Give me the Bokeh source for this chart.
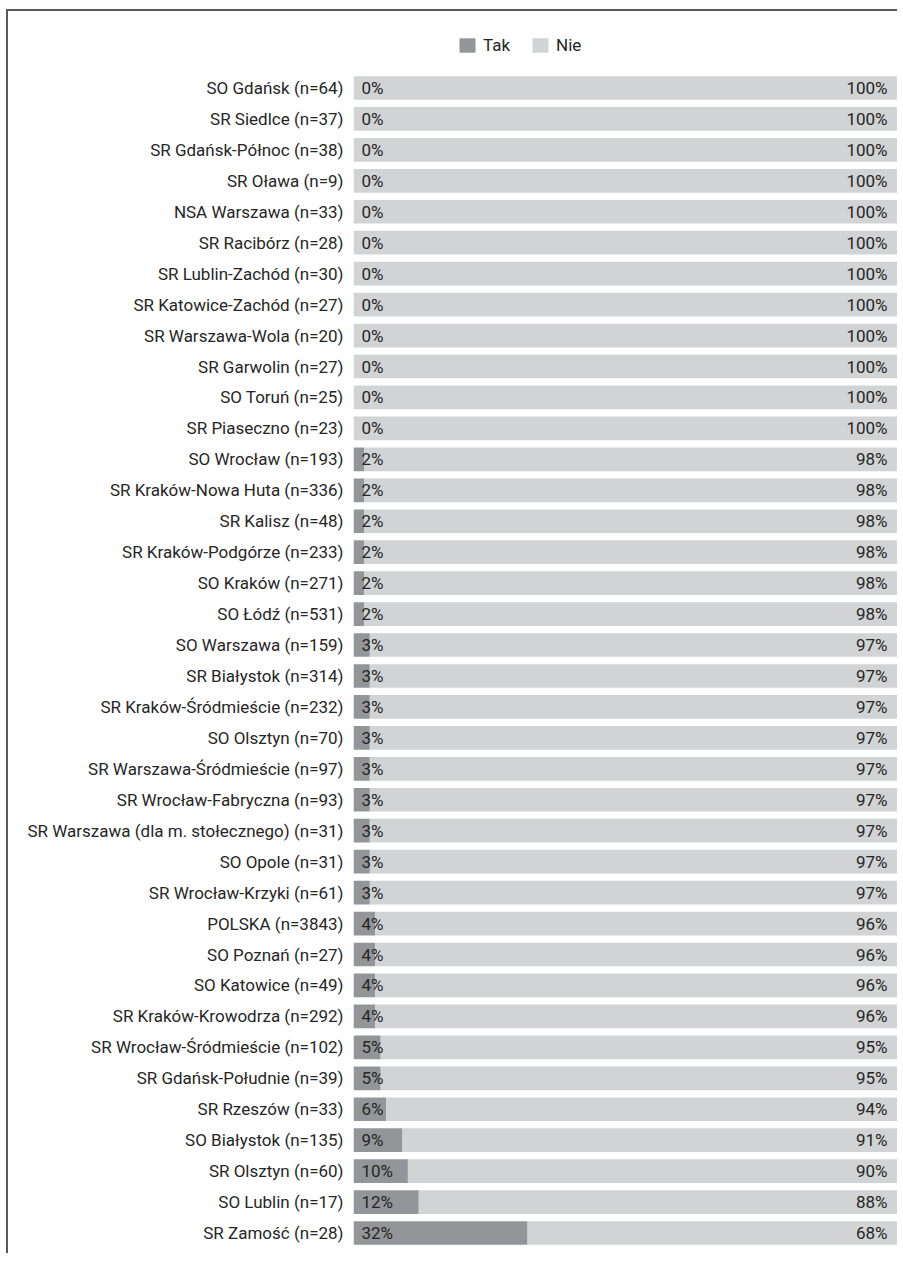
from bokeh.plotting import figure
from bokeh.models import ColumnDataSource, Legend, LegendItem, Range1d, FixedTicker
from bokeh.core.properties import value
from bokeh.embed import file_html
from bokeh.resources import INLINE

labels = [
    "SO Gdańsk (n=64)", "SR Siedlce (n=37)", "SR Gdańsk-Północ (n=38)", "SR Oława (n=9)",
    "NSA Warszawa (n=33)", "SR Racibórz (n=28)", "SR Lublin-Zachód (n=30)",
    "SR Katowice-Zachód (n=27)", "SR Warszawa-Wola (n=20)", "SR Garwolin (n=27)",
    "SO Toruń (n=25)", "SR Piaseczno (n=23)", "SO Wrocław (n=193)",
    "SR Kraków-Nowa Huta (n=336)", "SR Kalisz (n=48)", "SR Kraków-Podgórze (n=233)",
    "SO Kraków (n=271)", "SO Łódź (n=531)", "SO Warszawa (n=159)", "SR Białystok (n=314)",
    "SR Kraków-Śródmieście (n=232)", "SO Olsztyn (n=70)", "SR Warszawa-Śródmieście (n=97)",
    "SR Wrocław-Fabryczna (n=93)", "SR Warszawa (dla m. stołecznego) (n=31)",
    "SO Opole (n=31)", "SR Wrocław-Krzyki (n=61)", "POLSKA (n=3843)", "SO Poznań (n=27)",
    "SO Katowice (n=49)", "SR Kraków-Krowodrza (n=292)", "SR Wrocław-Śródmieście (n=102)",
    "SR Gdańsk-Południe (n=39)", "SR Rzeszów (n=33)", "SO Białystok (n=135)",
    "SR Olsztyn (n=60)", "SO Lublin (n=17)", "SR Zamość (n=28)",
]
tak = [0, 0, 0, 0, 0, 0, 0, 0, 0, 0, 0, 0, 2, 2, 2, 2, 2, 2, 3, 3, 3, 3, 3, 3, 3, 3, 3,
       4, 4, 4, 4, 5, 5, 6, 9, 10, 12, 32]
nie = [100, 100, 100, 100, 100, 100, 100, 100, 100, 100, 100, 100, 98, 98, 98, 98, 98, 98,
       97, 97, 97, 97, 97, 97, 97, 97, 97, 96, 96, 96, 96, 95, 95, 94, 91, 90, 88, 68]
series = ["Tak", "Nie"]
colors = ["#939598", "#d1d3d4"]

FONT = "Roboto"
TXT = "#262626"

n = len(labels)
rows = [n - 1 - i for i in range(n)]  # first category on top

source = ColumnDataSource(data=dict(
    row=rows,
    tak=tak,
    nie=nie,
    tak_lbl=[f"{v}%" for v in tak],
    nie_lbl=[f"{v}%" for v in nie],
    total=[a + b for a, b in zip(tak, nie)],
))

W, H = 891, 1244
BOTTOM = 7
ROW_PX = 1176 / n
frame_h = H - BOTTOM
y_end = -0.5 + frame_h / ROW_PX

p = figure(
    width=W, height=H,
    y_range=Range1d(-0.5, y_end),
    x_range=Range1d(0, 100),
    output_backend="svg", toolbar_location=None,
    min_border_left=345, min_border_right=2, min_border_top=0, min_border_bottom=BOTTOM,
)
p.styles = {"border-left": "2px solid #58595b", "border-top": "2px solid #58595b",
            "margin-left": "6px", "margin-top": "9px"}

renderers = p.hbar_stack(["tak", "nie"], y="row", height=0.765, color=colors,
                         line_color=None, source=source)

p.text(x=0, y="row", text="tak_lbl", source=source, x_offset=8,
       text_align="left", text_baseline="middle", text_color=TXT,
       text_font=value(FONT), text_font_size="17px")
p.text(x="total", y="row", text="nie_lbl", source=source, x_offset=-10,
       text_align="right", text_baseline="middle", text_color=TXT,
       text_font=value(FONT), text_font_size="17px")

legend = Legend(items=[LegendItem(label=s, renderers=[r]) for s, r in zip(series, renderers)],
                orientation="horizontal", location=(104, frame_h - 44),
                glyph_width=20, glyph_height=18, label_standoff=6, spacing=20,
                padding=0, margin=0, border_line_color=None, background_fill_alpha=0,
                label_text_font=FONT, label_text_font_size="17px", label_text_color=TXT)
p.add_layout(legend, "center")

p.xaxis.visible = False
p.yaxis.ticker = FixedTicker(ticks=rows)
p.yaxis.major_label_overrides = {r: lab for r, lab in zip(rows, labels)}
p.yaxis.axis_line_color = None
p.yaxis.major_tick_line_color = None
p.yaxis.minor_tick_line_color = None
p.yaxis.major_tick_out = 0
p.yaxis.major_tick_in = 0
p.yaxis.major_label_standoff = 10
p.yaxis.major_label_text_font = FONT
p.yaxis.major_label_text_font_size = "17px"
p.yaxis.major_label_text_color = TXT
p.grid.visible = False
p.outline_line_color = None
p.background_fill_color = "white"
p.border_fill_color = "white"

open("out.html", "w").write(file_html(p, INLINE))
